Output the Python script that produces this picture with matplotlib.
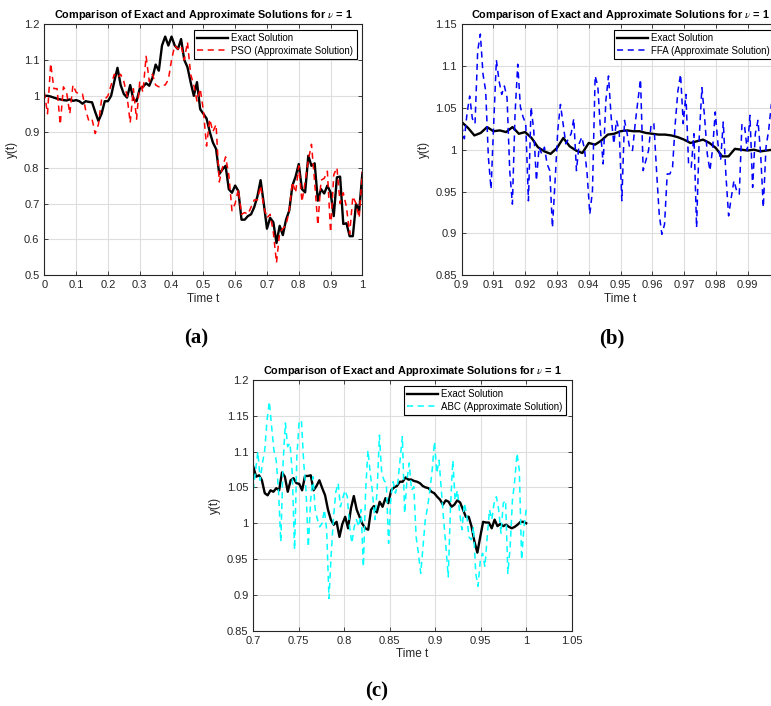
import numpy as np
import matplotlib
matplotlib.use("Agg")
import matplotlib.pyplot as plt
from matplotlib.ticker import FormatStrFormatter

plt.rcParams['font.family'] = ['Liberation Sans', 'DejaVu Sans']
plt.rcParams['mathtext.fontset'] = 'stix'

# ---- panel (a): PSO, t in [0, 1] ----
t_a = np.linspace(0.0, 1.0, 101)
exact_a = [1.000, 1.000, 0.998, 0.995, 0.992, 0.990, 0.988, 0.987, 0.990, 0.986,
           0.988, 0.985, 0.978, 0.985, 0.983, 0.982, 0.955, 0.930, 0.950, 0.985,
           0.985, 1.000, 1.040, 1.078, 1.030, 1.005, 0.995, 1.030, 0.990, 0.985,
           1.020, 1.025, 1.035, 1.028, 1.050, 1.087, 1.070, 1.140, 1.165, 1.140,
           1.165, 1.140, 1.130, 1.158, 1.100, 1.080, 1.038, 1.000, 1.038, 0.963,
           0.950, 0.937, 0.900, 0.870, 0.852, 0.782, 0.795, 0.805, 0.740, 0.730,
           0.750, 0.735, 0.655, 0.655, 0.665, 0.670, 0.690, 0.720, 0.765, 0.700,
           0.630, 0.660, 0.648, 0.590, 0.638, 0.612, 0.655, 0.680, 0.750, 0.775,
           0.810, 0.740, 0.731, 0.833, 0.805, 0.812, 0.708, 0.740, 0.728, 0.750,
           0.731, 0.665, 0.773, 0.775, 0.643, 0.645, 0.609, 0.609, 0.699, 0.680,
           0.784]
pso_a = [1.010, 0.950, 1.090, 1.020, 1.020, 0.920, 1.025, 1.010, 0.950, 1.030,
         1.010, 1.005, 1.005, 0.960, 0.930, 0.935, 0.895, 0.920, 0.990, 0.990,
         1.000, 1.030, 1.060, 1.050, 1.060, 1.040, 1.000, 0.925, 1.020, 0.935,
         1.040, 1.010, 1.110, 1.040, 1.060, 1.030, 1.025, 1.030, 1.030, 1.045,
         1.100, 1.140, 1.130, 1.140, 1.100, 1.150, 1.060, 1.030, 0.985, 1.020,
         0.960, 0.860, 0.935, 0.900, 0.920, 0.760, 0.800, 0.830, 0.780, 0.680,
         0.700, 0.740, 0.670, 0.675, 0.670, 0.690, 0.710, 0.710, 0.750, 0.690,
         0.660, 0.670, 0.620, 0.535, 0.620, 0.630, 0.640, 0.680, 0.760, 0.730,
         0.805, 0.705, 0.760, 0.820, 0.865, 0.760, 0.640, 0.765, 0.770, 0.790,
         0.620, 0.780, 0.800, 0.700, 0.730, 0.690, 0.615, 0.720, 0.700, 0.660,
         0.790]

# ---- panel (b): FFA, t in [0.9, 1] ----
exact_b = [1.033, 1.026, 1.017, 1.020, 1.027, 1.022, 1.023, 1.021, 1.027, 1.019,
           1.021, 1.014, 1.003, 0.998, 0.995, 1.002, 1.014, 1.004, 0.999, 0.996,
           1.008, 1.006, 1.011, 1.018, 1.019, 1.022, 1.023, 1.022, 1.022, 1.020,
           1.019, 1.018, 1.018, 1.017, 1.015, 1.012, 1.008, 1.010, 1.012, 1.008,
           1.002, 0.992, 0.992, 1.001, 1.000, 0.999, 1.000, 0.998, 0.999, 1.000,
           1.001]
t_b_exact = np.linspace(0.9, 1.0, len(exact_b))
ffa_b = [1.029, 1.013, 1.043, 1.064, 1.037, 1.031, 1.118, 1.138, 1.090, 1.070,
         0.991, 0.953, 1.031, 1.107, 1.082, 1.066, 1.076, 1.062, 0.975, 0.935,
         1.043, 1.102, 1.051, 1.039, 1.031, 0.939, 1.051, 1.023, 0.963, 1.003,
         0.995, 1.003, 0.983, 0.975, 0.907, 0.963, 1.023, 1.054, 1.031, 1.007,
         1.013, 1.019, 1.037, 0.975, 1.007, 1.015, 1.001, 0.971, 0.923, 0.951,
         1.088, 1.076, 1.023, 0.983, 1.058, 1.088, 1.039, 1.007, 1.035,
         1.023, 0.939, 1.035, 1.019, 1.001, 0.999, 1.031, 1.058, 1.084, 0.975,
         0.987, 0.999, 1.031, 1.031, 0.975, 0.923, 0.899, 0.911, 0.971, 0.971,
         0.979, 1.031, 1.070, 1.090, 1.031, 1.066, 0.983, 0.979, 1.019, 0.907,
         1.015, 1.074, 1.039, 0.995, 0.975, 1.001, 1.045, 1.007, 0.987, 1.033,
         0.969, 0.921, 0.943, 0.963, 0.951, 0.947, 1.031, 1.027, 0.999, 1.041,
         0.955, 1.019, 1.035, 0.995, 0.931, 1.003, 1.023, 1.054, 1.060, 1.030,
         1.010]
t_b_ffa = np.linspace(0.9, 1.0, len(ffa_b))

# ---- panel (c): ABC, t in [0.7, 1] ----
exact_c = [1.079, 1.065, 1.067, 1.060, 1.042, 1.039, 1.046, 1.044, 1.049, 1.046,
           1.071, 1.065, 1.044, 1.060, 1.063, 1.056, 1.055, 1.046, 1.066, 1.066,
           1.067, 1.046, 1.052, 1.060, 1.049, 1.039, 1.019, 1.005, 0.998, 1.002,
           0.981, 0.999, 1.009, 0.993, 1.021, 1.038, 1.019, 1.009, 0.999, 0.993,
           0.991, 1.019, 1.024, 1.015, 1.030, 1.023, 1.035, 1.028, 1.046, 1.050,
           1.052, 1.058, 1.058, 1.064, 1.061, 1.061, 1.059, 1.058, 1.056, 1.052,
           1.050, 1.049, 1.044, 1.042, 1.037, 1.033, 1.026, 1.032, 1.030, 1.023,
           1.026, 1.032, 1.029, 1.019, 1.009, 1.009, 0.995, 0.974, 0.959, 0.981,
           1.002, 1.001, 1.001, 0.993, 1.005, 0.996, 0.999, 0.996, 0.998, 0.995,
           0.993, 0.995, 0.998, 1.002, 1.002, 1.000]
t_c_exact = np.linspace(0.7, 1.0, len(exact_c))
abc_c = [1.046, 1.074, 1.100, 1.060, 1.084, 1.102, 1.144, 1.170, 1.135, 1.102,
         1.088, 1.046, 0.974, 1.084, 1.140, 1.107, 1.112, 1.070, 0.963, 1.093,
         1.142, 1.144, 1.084, 1.046, 0.967, 1.032, 1.065, 1.019, 1.005, 0.995,
         1.000, 1.019, 0.991, 0.895, 0.958, 1.009, 1.044, 1.056, 1.023, 1.035,
         1.046, 1.037, 0.995, 0.972, 0.995, 1.005, 0.995, 1.019, 0.939, 1.046,
         1.102, 1.070, 1.042, 1.005, 1.046, 1.123, 1.070, 1.060, 1.056, 0.972,
         1.037, 1.058, 1.042, 1.056, 1.088, 1.121, 1.014, 1.060, 1.084, 1.046,
         1.051, 0.981, 0.958, 0.930, 0.967, 1.005, 1.023, 1.046, 1.074, 1.114,
         1.070, 1.088, 1.046, 1.005, 0.967, 0.925, 1.023, 1.088, 1.032, 1.046,
         1.014, 0.991, 1.028, 1.014, 0.981, 0.977, 0.995, 0.930, 0.912, 0.949,
         0.958, 0.939, 0.981, 1.019, 1.005, 1.028, 1.037, 1.019, 0.986, 1.028,
         1.032, 0.930, 0.967, 1.032, 1.060, 1.098, 1.074, 0.949, 0.995, 1.019]
t_c_abc = np.linspace(0.7, 1.0, len(abc_c))

TITLE = r'Comparison of Exact and Approximate Solutions for $\nu$ = 1'
GRAY = '#262626'


def style_axes(ax, xlim, ylim, xticks, yticks):
    ax.set_xlim(*xlim)
    ax.set_ylim(*ylim)
    ax.set_xticks(xticks)
    ax.set_yticks(yticks)
    ax.xaxis.set_major_formatter(FormatStrFormatter('%g'))
    ax.yaxis.set_major_formatter(FormatStrFormatter('%g'))
    ax.grid(True, color='#dedede', linewidth=0.8)
    ax.set_axisbelow(True)
    ax.tick_params(direction='in', top=True, right=True, labelsize=8,
                   colors=GRAY, length=3, width=0.6)
    for s in ax.spines.values():
        s.set_color(GRAY)
        s.set_linewidth(0.8)
    ax.set_title(TITLE, fontsize=7.8, fontweight='bold', pad=4)
    ax.set_xlabel('Time t', fontsize=8.5, color=GRAY, labelpad=2)
    ax.set_ylabel('y(t)', fontsize=8.5, color=GRAY, labelpad=4)


def add_legend(ax):
    leg = ax.legend(loc='upper right', fontsize=7, frameon=True, fancybox=False,
                    framealpha=1, edgecolor='black', handlelength=3.2,
                    borderaxespad=0.6, borderpad=0.35, labelspacing=0.25,
                    handletextpad=0.3)
    leg.get_frame().set_linewidth(0.8)


fig = plt.figure(figsize=(7.71, 7.06), dpi=100)

ax_a = fig.add_axes([0.0575, 0.610, 0.4125, 0.356])
ax_a.plot(t_a, exact_a, color='black', lw=1.7, label='Exact Solution')
ax_a.plot(t_a, pso_a, color='red', lw=1.1, ls=(0, (4, 3)),
          label='PSO (Approximate Solution)')
style_axes(ax_a, (0, 1), (0.5, 1.2), np.arange(0, 1.01, 0.1),
           np.arange(0.5, 1.21, 0.1))
add_legend(ax_a)

# panel (b) runs past the right edge of the figure, as in the reference
ax_b = fig.add_axes([0.5988, 0.610, 0.412, 0.356])
ax_b.plot(t_b_exact, exact_b, color='black', lw=1.7, label='Exact Solution')
ax_b.plot(t_b_ffa, ffa_b, color='blue', lw=1.1, ls=(0, (4, 3)),
          label='FFA (Approximate Solution)')
style_axes(ax_b, (0.9, 1.0), (0.85, 1.15), np.arange(0.9, 0.9951, 0.01),
           np.arange(0.85, 1.151, 0.05))
add_legend(ax_b)

ax_c = fig.add_axes([0.3285, 0.1067, 0.413, 0.355])
ax_c.plot(t_c_exact, exact_c, color='black', lw=1.7, label='Exact Solution')
ax_c.plot(t_c_abc, abc_c, color='cyan', lw=1.1, ls=(0, (4, 3)),
          label='ABC (Approximate Solution)')
style_axes(ax_c, (0.7, 1.05), (0.85, 1.2), np.arange(0.7, 1.051, 0.05),
           np.arange(0.85, 1.201, 0.05))
add_legend(ax_c)

for x, y, s in [(0.254, 0.521, '(a)'), (0.794, 0.521, '(b)'), (0.488, 0.021, '(c)')]:
    fig.text(x, y, s, ha='center', va='center', fontsize=15, fontweight='bold',
             family='Liberation Serif')

fig.savefig('out.png', dpi=100)
